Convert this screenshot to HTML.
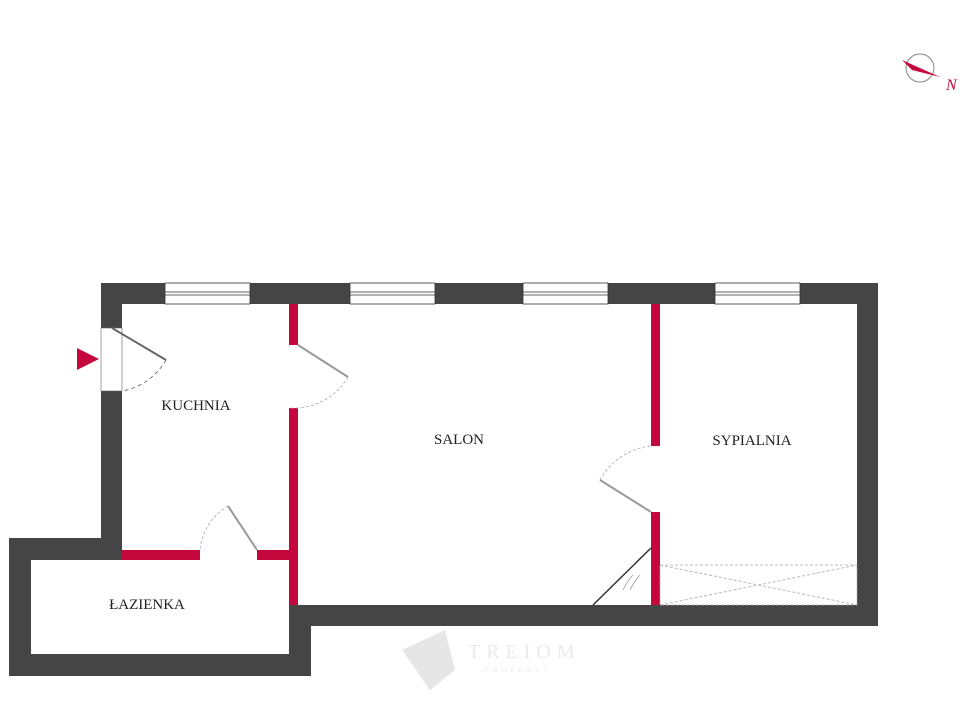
<!DOCTYPE html>
<html><head><style>body{margin:0;background:#fff}svg{display:block}text{font-family:"Liberation Serif",serif;fill:#222}</style></head><body>
<svg width="962" height="721" viewBox="0 0 962 721" xmlns="http://www.w3.org/2000/svg">
<g fill="#454545">
<rect x="101" y="283" width="777" height="21"/>
<rect x="857" y="283" width="21" height="343"/>
<rect x="289" y="605" width="589" height="21"/>
<rect x="101" y="283" width="21" height="277"/>
<rect x="9" y="538" width="113" height="22"/>
<rect x="9" y="538" width="22" height="138"/>
<rect x="9" y="654" width="302" height="22"/>
<rect x="289" y="605" width="22" height="71"/>
</g>
<g fill="#fff" stroke="#333" stroke-width="0.8">
<rect x="165" y="283" width="85" height="21"/><rect x="350" y="283" width="85" height="21"/>
<rect x="523" y="283" width="85" height="21"/><rect x="715" y="283" width="85" height="21"/>
</g>
<g stroke="#333" stroke-width="0.8">
<line x1="165" y1="292" x2="250" y2="292"/><line x1="165" y1="295" x2="250" y2="295"/>
<line x1="350" y1="292" x2="435" y2="292"/><line x1="350" y1="295" x2="435" y2="295"/>
<line x1="523" y1="292" x2="608" y2="292"/><line x1="523" y1="295" x2="608" y2="295"/>
<line x1="715" y1="292" x2="800" y2="292"/><line x1="715" y1="295" x2="800" y2="295"/>
</g>
<rect x="101" y="328" width="21" height="63" fill="#fff" stroke="#666" stroke-width="0.6"/>
<g fill="#c4073c">
<rect x="122" y="550" width="78" height="10"/><rect x="257" y="550" width="41" height="10"/>
<rect x="289" y="304" width="9" height="41"/><rect x="289" y="408" width="9" height="197"/>
<rect x="651" y="304" width="9" height="142"/><rect x="651" y="512" width="9" height="93"/>
<polygon points="77,348 77,370 99,359"/>
</g>
<g fill="none" stroke="#666" stroke-width="0.8">
<line x1="112" y1="328" x2="166" y2="360" stroke-width="2"/>
<path d="M166,360 A63,63 0 0 1 122,391" stroke-dasharray="4,3"/>
<line x1="298" y1="345" x2="348" y2="377" stroke="#999" stroke-width="2"/>
<path d="M348,377 A63,63 0 0 1 290,408" stroke="#aaa" stroke-dasharray="3,2"/>
<line x1="228" y1="506" x2="257" y2="550" stroke="#999" stroke-width="2"/>
<path d="M228,506 A57,57 0 0 0 200,550" stroke="#aaa" stroke-dasharray="3,2"/>
<line x1="651" y1="512" x2="600" y2="480" stroke="#999" stroke-width="2"/>
<path d="M600,480 A66,66 0 0 1 651,446" stroke="#aaa" stroke-dasharray="3,2"/>
<line x1="651" y1="548" x2="593" y2="605" stroke="#333" stroke-width="1.5"/>
<g stroke="#aaa" stroke-dasharray="3,2">
<rect x="660" y="565" width="197" height="40"/>
<line x1="660" y1="565" x2="857" y2="605"/><line x1="660" y1="605" x2="857" y2="565"/>
</g>
<path d="M623,590 q5,-10 10,-15 M630,590 q5,-10 10,-15" stroke="#999"/>
</g>
<text x="196" y="410" font-size="15" text-anchor="middle">KUCHNIA</text>
<text x="459" y="444" font-size="15" text-anchor="middle">SALON</text>
<text x="752" y="445" font-size="15" text-anchor="middle">SYPIALNIA</text>
<text x="147" y="609" font-size="15" text-anchor="middle">ŁAZIENKA</text>
<g>
<circle cx="920" cy="68" r="14" fill="none" stroke="#888" stroke-width="1"/>
<polygon points="902,60 940,77 912,70" fill="#c4073c"/>
<text x="946" y="90" font-size="16" font-style="italic" style="fill:#c4073c">N</text>
</g>
<g opacity="0.2">
<polygon points="402,650 445,630 455,670 430,690" fill="#888"/>
<text x="468" y="658" font-size="20" letter-spacing="6" style="fill:#999">TREIOM</text>
<text x="485" y="672" font-size="7" letter-spacing="4" style="fill:#999">PROPERTY</text>
</g>
</svg>
</body></html>
